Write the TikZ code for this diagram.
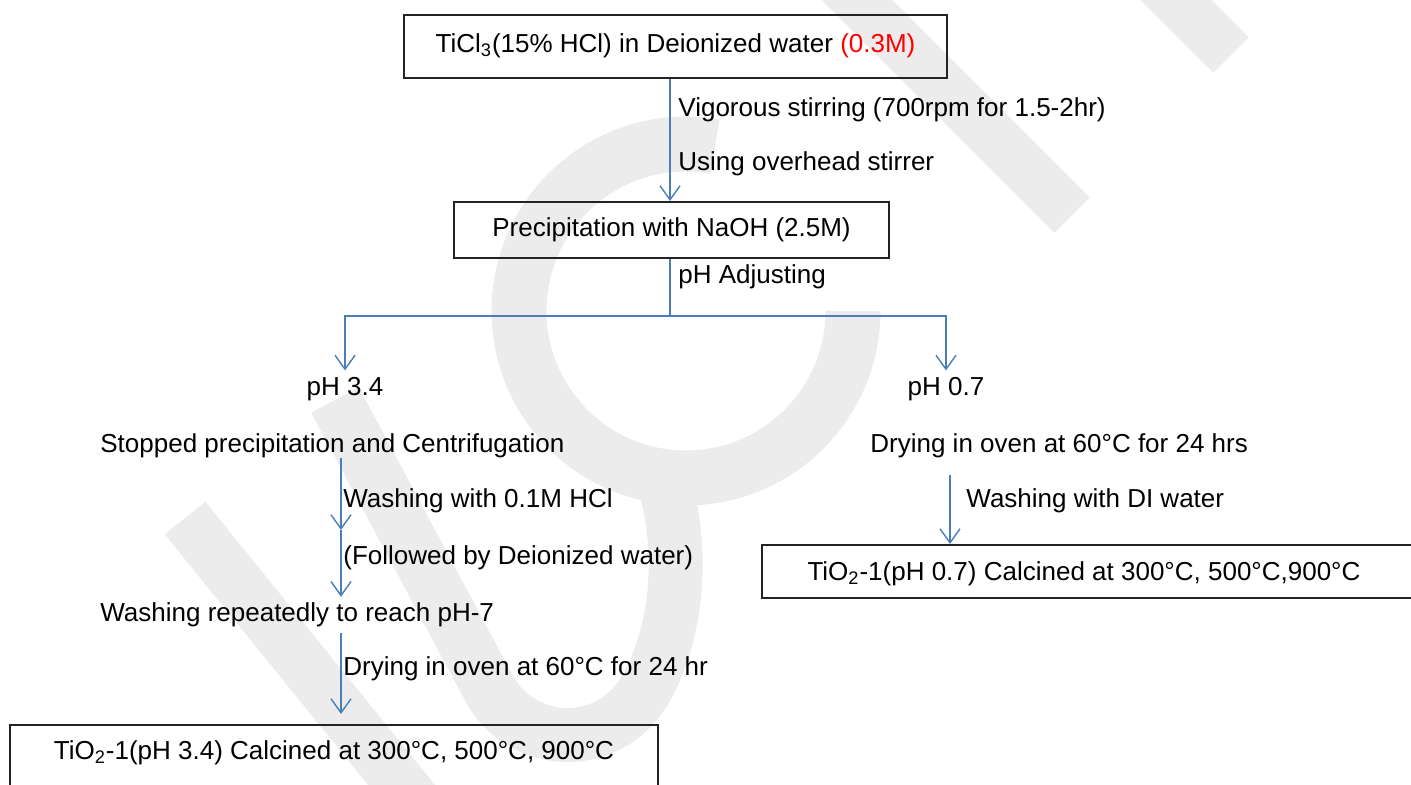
\documentclass[tikz,border=0pt]{standalone}
\usepackage{fontspec}
\setmainfont{Liberation Sans}
\usetikzlibrary{arrows.meta}
\definecolor{flow}{RGB}{74,126,187}
\definecolor{wm}{RGB}{236,236,236}
\definecolor{boxline}{RGB}{35,35,35}
\newcommand{\fsz}{\fontsize{13pt}{15pt}\selectfont}
\begin{document}
\begin{tikzpicture}[x=0.5pt,y=-0.5pt,
  box/.style={draw=boxline,line width=1pt,inner sep=0pt,font=\fsz},
  lbl/.style={inner sep=0pt,anchor=base west,font=\fsz},
  clbl/.style={inner sep=0pt,anchor=base,font=\fsz},
  flowline/.style={draw=flow,line width=0.7pt},
  arr/.style={flowline,-{Straight Barb[length=7pt,width=10pt]}},
  wmark/.style={draw=wm,line cap=butt}]
\useasboundingbox (0,0) rectangle (1411,785);
\clip (0,0) rectangle (1411,785);
% watermark
\draw[wmark,line width=26pt] (185,518) -- (430,820);
\draw[wmark,line width=27.5pt] (686,311) ++(-80:167) arc[start angle=-80,end angle=-360,radius=167];
\draw[wmark,line width=27pt] (335,400) -- (490,690) .. controls (525,750) and (610,750) .. (645,690) .. controls (680,630) and (685,540) .. (660,470);
\draw[wmark,line width=25pt] (827,-30) -- (1072,215);
\draw[wmark,line width=25pt] (1146,-30) -- (1231,55);
% boxes
\node[box,minimum width=271.5pt,minimum height=31.5pt,text height=9.5pt,text depth=4pt] (b1) at (675.5,47)
  {TiCl\textsubscript{3}(15\% HCl) in Deionized water \textcolor{red}{(0.3M)}};
\node[box,minimum width=217.5pt,minimum height=28pt,text height=9.5pt,text depth=2.5pt] (b2) at (671.5,230)
  {Precipitation with NaOH (2.5M)};
\node[box,minimum width=329pt,minimum height=26.5pt,text height=10pt,text depth=1.5pt] (br) at (1091,571.5)
  {TiO\textsubscript{2}-1(pH 0.7) Calcined at 300°C, 500°C,900°C\hspace*{7pt}};
\node[box,minimum width=324pt,minimum height=42.5pt,text height=9.5pt,text depth=18pt] (bl) at (334,767.5)
  {TiO\textsubscript{2}-1(pH 3.4) Calcined at 300°C, 500°C, 900°C};
% labels
\node[lbl] (l1) at (678,117) {Vigorous stirring (700rpm for 1.5-2hr)};
\node[lbl] (l2) at (678,171) {Using overhead stirrer};
\node[lbl] (l3) at (678,284) {pH Adjusting};
\node[clbl] (p34) at (345,395) {pH 3.4};
\node[clbl] (p07) at (946,395) {pH 0.7};
\node[lbl] (stop) at (100,452) {Stopped precipitation and Centrifugation};
\node[lbl] (w1) at (343,507) {Washing with 0.1M HCl};
\node[lbl] (w2) at (343,564) {(Followed by Deionized water)};
\node[lbl] (wr) at (100,621) {Washing repeatedly to reach pH-7};
\node[lbl] (dl) at (343,675) {Drying in oven at 60°C for 24 hr};
\node[lbl] (dr) at (870,452) {Drying in oven at 60°C for 24 hrs};
\node[lbl] (wd) at (966,507) {Washing with DI water};
% connectors
\coordinate (a1) at (670,0);
\coordinate (j) at (670,316);
\coordinate (cx) at (341,0);
\coordinate (m1) at (341,530);
\coordinate (rx) at (950,0);
\draw[arr] (b1.south -| a1) -- (b2.north -| a1);
\draw[flowline] (b2.south -| a1) -- (j);
\draw[arr,shorten >=3pt] (j) -| (p34.north);
\draw[arr,shorten >=3pt] (j) -| (p07.north);
\draw[arr] (stop.south -| cx) -- (m1);
\draw[arr,shorten >=2.5pt] (m1) -- (wr.north -| cx);
\draw[arr,shorten <=3pt,shorten >=5pt] (wr.south -| cx) -- (bl.north -| cx);
\draw[arr,shorten <=8.5pt] (dr.south -| rx) -- (br.north -| rx);
\end{tikzpicture}
\end{document}
